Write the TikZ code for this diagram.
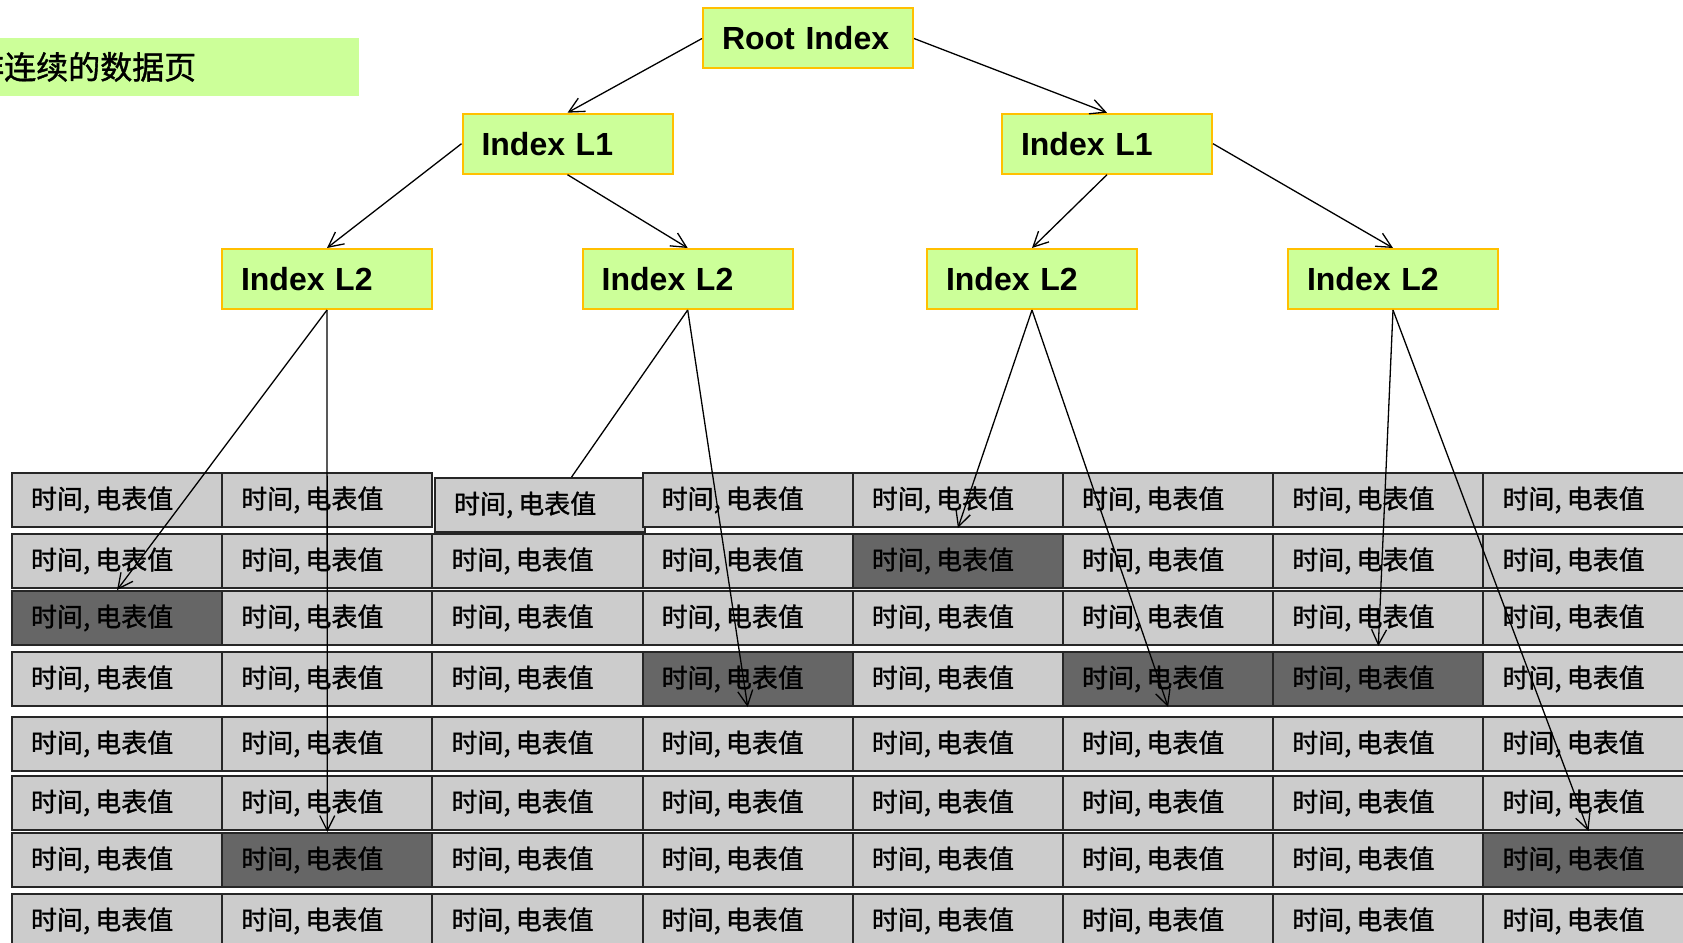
\documentclass[tikz,border=0pt]{standalone}
\usepackage{fontspec}
\setmainfont{Liberation Sans}
\newfontfamily\cjk[FakeBold=1.2]{Noto Sans CJK SC}
\usetikzlibrary{arrows.meta,calc}

\definecolor{leaf}{HTML}{CCFF99}
\definecolor{boxrim}{HTML}{FFC000}
\definecolor{celllight}{HTML}{CCCCCC}
\definecolor{celldark}{HTML}{666666}

% text of one data cell
\newcommand\meterval{时间,\kern5pt 电表值}

% cells that hold a hit record
\foreach \k in {25,31,44,46,47,72,78}{\expandafter\gdef\csname darkcell\k\endcsname{}}

\begin{document}
\begin{tikzpicture}[x=1pt,y=-1pt,
  idx/.style={draw=boxrim, line width=2pt, fill=leaf, minimum width=210pt,
    minimum height=60pt, inner xsep=19pt, text width=172pt, align=left,
    font=\fontsize{32}{38}\selectfont\bfseries, anchor=north west},
  cell/.style={draw=black!85, line width=2pt, fill=celllight,
    minimum width=210.2pt, minimum height=54pt, inner xsep=19pt,
    text width=172.2pt, align=left, font=\cjk\fontsize{26}{30}\selectfont,
    anchor=north west},
  darkif/.code={\ifcsname darkcell#1\endcsname\pgfkeysalso{fill=celldark}\fi},
  titlebox/.style={fill=leaf, minimum width=417pt, minimum height=58pt,
    inner xsep=30pt, text width=357pt, align=left,
    font=\cjk\fontsize{32}{36}\selectfont, anchor=north west},
  link/.style={line width=1.3pt, black},
  arr/.style={link, -{Straight Barb[length=15pt,width=15pt]}},
]
\useasboundingbox (0,0) rectangle (1683,942);
\clip (0,0) rectangle (1683,942);

% heading, its first character runs off the left edge
\node[titlebox] (title) at (-58,37.7) {非连续的数据页};

% index tree
\node[idx] (root) at (702,7.5) {Root Index};
\node[idx] (l1a) at (461.5,112.7) {Index L1};
\node[idx] (l1b) at (1001,112.7) {Index L1};
\node[idx] (l2a) at (221,248) {Index L2};
\node[idx] (l2b) at (581.7,248) {Index L2};
\node[idx] (l2c) at (926,248) {Index L2};
\node[idx] (l2d) at (1287,248) {Index L2};

% data pages
\node[cell] (c13) at (434,477) {\meterval};
\foreach \c in {1,2,4,5,6,7,8}{
  \node[cell, darkif=1\c] (c1\c) at ({11+(\c-1)*210.2},472) {\meterval};
}
\foreach \r/\top in {2/533,3/590,4/651,5/716,6/775,7/832,8/893}{
  \foreach \c in {1,...,8}{
    \node[cell, darkif=\r\c] (c\r\c) at ({11+(\c-1)*210.2},\top) {\meterval};
  }
}

% tree links
\draw[arr] (root.west) -- (l1a.north);
\draw[arr] (root.east) -- (l1b.north);
\draw[arr] (l1a.west) -- (l2a.north);
\draw[arr] (l1a.south) -- (l2b.north);
\draw[arr] (l1b.south) -- (l2c.north);
\draw[arr] (l1b.east) -- (l2d.north);

% leaf pointers into the pages
\draw[arr] (l2a.south) -- (c31.north);
\draw[arr] (l2a.south) -- (c72.north);
\draw[link] (l2b.south) -- ($(c13.north)+(31.5,0)$);
\draw[arr] (l2b.south) -- (c44.south);
\draw[arr] (l2c.south) -- (c15.south);
\draw[arr] (l2c.south) -- (c46.south);
\draw[arr] (l2d.south) -- (c37.south);
\draw[arr] (l2d.south) -- (c68.south);
\end{tikzpicture}
\end{document}
